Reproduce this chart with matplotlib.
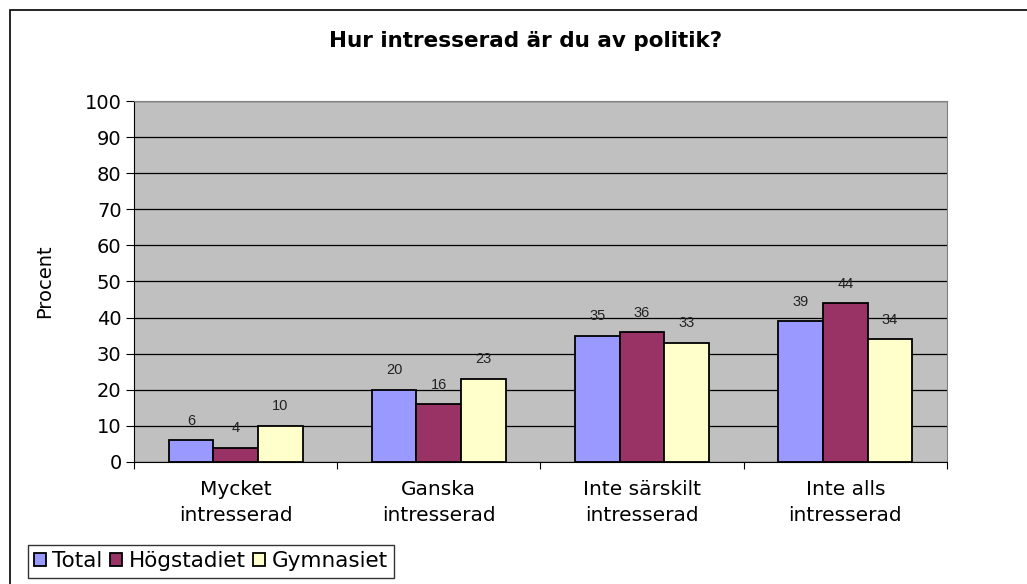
import matplotlib.pyplot as plt
import numpy as np
from matplotlib.patches import Rectangle

categories = ["Mycket\nintresserad", "Ganska\nintresserad",
              "Inte särskilt\nintresserad", "Inte alls\nintresserad"]
series_names = ["Total", "Högstadiet", "Gymnasiet"]
total = [6, 20, 35, 39]
hogstadiet = [4, 16, 36, 44]
gymnasiet = [10, 23, 33, 34]
colors = ["#9999FF", "#993366", "#FFFFCC"]

plt.rcParams['font.family'] = ['DejaVu Sans']

fig = plt.figure(figsize=(10.27, 5.84), dpi=100)
ax = fig.add_axes([0.1305, 0.209, 0.7915, 0.618])

# outer chart border
fig.patches.append(Rectangle((10 / 1027, -0.01), 1.02, 1 - 10 / 584 + 0.01,
                             transform=fig.transFigure, fill=False,
                             edgecolor="black", linewidth=1.2))

x = np.arange(len(categories))
w = 0.22
for i, (vals, name) in enumerate(zip([total, hogstadiet, gymnasiet], series_names)):
    bars = ax.bar(x + (i - 1) * w, vals, w, color=colors[i], edgecolor="black",
                  linewidth=1.3, label=name, zorder=3)
    for b, v in zip(bars, vals):
        ax.annotate(str(v), (b.get_x() + b.get_width() / 2, v),
                    xytext=(0, 14), textcoords="offset points",
                    ha="center", va="center", fontsize=10.5,
                    family="Liberation Sans", color="#222222")

ax.set_facecolor("#C0C0C0")
ax.set_ylim(0, 100)
ax.set_xlim(-0.5, len(categories) - 0.5)
ax.set_yticks(range(0, 101, 10))
ax.yaxis.grid(True, color="black", linewidth=0.9, zorder=0)
ax.set_axisbelow(True)
ax.tick_params(axis="y", labelsize=14, length=6, pad=3, direction="out", color="black")

ax.set_xticks(np.arange(-0.5, len(categories), 1.0))
ax.set_xticklabels([])
ax.set_xticks(x, minor=True)
ax.set_xticklabels(categories, minor=True, fontsize=14.5, linespacing=1.5)
ax.tick_params(axis="x", which="major", length=5, color="black")
ax.tick_params(axis="x", which="minor", length=0, pad=13)

for s in ["top", "right"]:
    ax.spines[s].set_color("#808080")
ax.spines["left"].set_color("black")
ax.spines["bottom"].set_color("black")

ax.set_ylabel("Procent", fontsize=14, labelpad=22)
fig.text(0.512, 0.93, "Hur intresserad är du av politik?", ha="center",
         va="center", fontsize=15.5, fontweight="bold")

ax.legend(loc="lower left", bbox_to_anchor=(0.027, 0.011),
          bbox_transform=fig.transFigure, ncol=3, fontsize=15.5,
          frameon=True, fancybox=False, edgecolor="black",
          handlelength=0.55, handleheight=0.55, handletextpad=0.3,
          columnspacing=0.35, borderpad=0.3, borderaxespad=0)

fig.savefig("out.png", dpi=100)
